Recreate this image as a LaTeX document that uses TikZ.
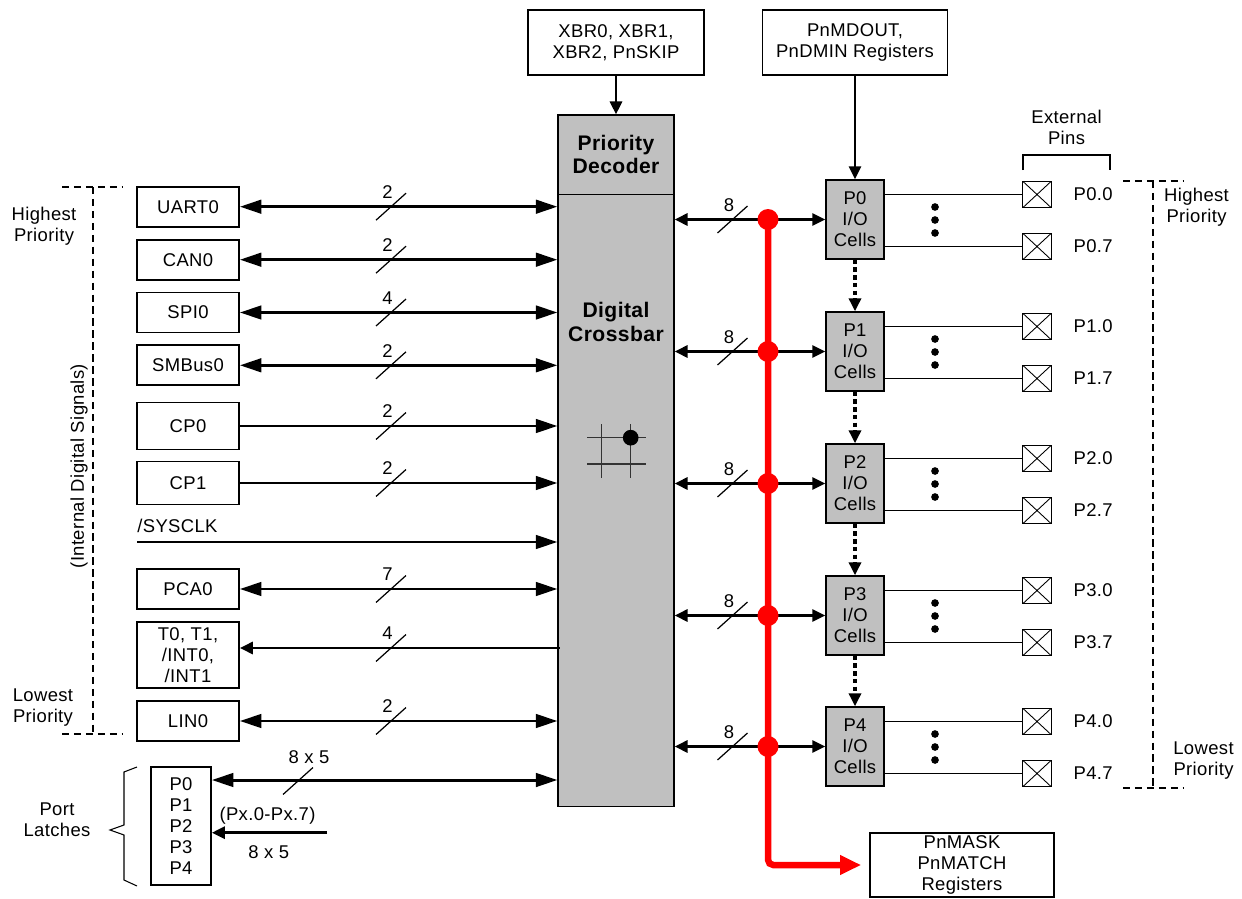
\documentclass[tikz,border=0pt]{standalone}
\usepackage{fontspec}
\setmainfont[LetterSpace=2]{Liberation Sans}
\usepackage{tikz}
\usetikzlibrary{arrows.meta, positioning, calc}
\definecolor{xbGray}{HTML}{C0C0C0}
\definecolor{busRed}{HTML}{FF0000}

\begin{document}
\begin{tikzpicture}[
  x=0.02cm, y=-0.02cm,
  font=\fontsize{10.5}{12}\selectfont,
  bigtip/.tip={Triangle[length=4.3mm, width=2.7mm]},
  smalltip/.tip={Triangle[length=2.6mm, width=2.4mm]},
  redtip/.tip={Triangle[length=4.2mm, width=3.7mm]},
  blk/.style={draw, line width=1pt, fill=white, align=center, inner sep=0pt,
              minimum width=2.04cm, minimum height=0.8cm},
  xb/.style={draw, line width=0.7pt, fill=xbGray, align=center, inner sep=0pt,
             minimum width=2.32cm},
  cell/.style={draw, line width=0.8pt, fill=xbGray, align=center, inner sep=0pt,
               minimum width=1.16cm, minimum height=1.58cm},
  pin/.style={draw, line width=0.6pt, fill=white, inner sep=0pt,
              minimum width=0.57cm, minimum height=0.53cm,
              path picture={\draw[line width=0.5pt]
                (path picture bounding box.north west) -- (path picture bounding box.south east)
                (path picture bounding box.south west) -- (path picture bounding box.north east);}},
  lbl/.style={align=center, inner sep=0pt},
  hdr/.style={align=center, inner sep=0pt, font=\fontsize{12}{13.3}\selectfont\bfseries},
  arr/.style={line width=1.7pt, arrows={bigtip-bigtip}},
  arrin/.style={line width=1.7pt, arrows={-bigtip}},
  arrout/.style={line width=1.7pt, arrows={-smalltip}},
  arrio/.style={line width=1.7pt, arrows={smalltip-smalltip}},
  arrdot/.style={line width=2pt, dash pattern=on 2.6pt off 1.8pt, arrows={-smalltip}},
  wire/.style={line width=0.8pt},
  prio/.style={line width=1.1pt, dash pattern=on 4.2pt off 2.6pt},
  bus/.style={line width=3.7pt, draw=busRed, rounded corners=3pt},
  junc/.style={circle, fill=busRed, inner sep=0pt, minimum size=0.42cm},
  pics/bw/.style={code={
    \draw[line width=0.7pt] (-0.3cm,-0.27cm) -- (0.3cm,0.27cm);
    \node[lbl] (-n) at (-0.07cm,0.29cm) {#1};}},
]
\useasboundingbox (0,0) rectangle (1242,899);

% ---- Configuration registers ----
\node[blk, minimum width=3.52cm, minimum height=1.3cm] (xbr) at (616,42.5) {XBR0, XBR1,\\XBR2, PnSKIP};
\node[blk, minimum width=3.7cm, minimum height=1.3cm] (mdout) at (855,42.5) {PnMDOUT,\\PnDMIN Registers};

% ---- Crossbar ----
\node[xb, hdr, minimum height=1.586cm] (dec) at (616,154.7) {Priority\\Decoder};
\node[xb, minimum height=12.25cm] (xbar) at (616,500.5) {};
\node[hdr] (xbarlbl) at (616,322) {Digital\\Crossbar};
\draw[line width=0.7pt, draw=black!80] (587,437.7) -- (646,437.7) (587,464) -- (646,464)
  (601.7,424) -- (601.7,477.7) (630.7,424) -- (630.7,477.7);
\fill (630.7,437.7) circle (0.157cm);

\draw[arrout] (xbr.south) -- (dec.north);

% ---- Peripherals ----
\node[blk] (uart) at (188,206.7) {UART0};
\node[blk] (can) at (188,259.7) {CAN0};
\node[blk] (spi) at (188,312.5) {SPI0};
\node[blk] (smb) at (188,365.3) {SMBus0};
\node[blk, minimum height=0.94cm] (cp0) at (188,426) {CP0};
\node[blk, minimum height=0.86cm] (cp1) at (188,483) {CP1};
\node[lbl, anchor=west] (sysclk) at (137,526) {/SYSCLK};
\coordinate (clk) at (137,542);
\node[blk] (pca) at (188,589) {PCA0};
\node[blk, minimum height=1.32cm] (tint) at (188,655) {T0, T1,\\/INT0,\\/INT1};
\node[blk] (lin) at (188,721) {LIN0};

\draw[arr] (uart.east) -- (uart.east -| xbar.west);
\draw[arr] (can.east) -- (can.east -| xbar.west);
\draw[arr] (spi.east) -- (spi.east -| xbar.west);
\draw[arr] (smb.east) -- (smb.east -| xbar.west);
\draw[arrin] (cp0.east) -- (cp0.east -| xbar.west);
\draw[arrin] (cp1.east) -- (cp1.east -| xbar.west);
\draw[arrin] (clk) -- (clk -| xbar.west);
\draw[arr] (pca.east) -- (pca.east -| xbar.west);
\coordinate (tinta) at ([yshift=0.14cm]tint.east);
\draw[arrout] ([xshift=0.05cm]tinta -| xbar.west) -- (tinta);
\draw[arr] (lin.east) -- (lin.east -| xbar.west);

\pic (wuart) at (391,206.7) {bw=2};
\pic (wcan) at (391,259.7) {bw=2};
\pic (wspi) at (391,312.5) {bw=4};
\pic (wsmb) at (391,365.3) {bw=2};
\pic (wcp0) at (391,426) {bw=2};
\pic (wcp1) at (391,483) {bw=2};
\pic (wpca) at (391,589) {bw=7};
\pic (wtint) at (391,648) {bw=4};
\pic (wlin) at (391,721) {bw=2};

% ---- Port latches ----
\node[blk, minimum width=1.2cm, minimum height=2.36cm] (latch) at (181,826) {P0\\P1\\P2\\P3\\P4};
\coordinate (lt) at ([yshift=0.92cm]latch.east);
\draw[arr] (lt) -- (lt -| xbar.west);
\pic (wlt) at (298,781) {bw={}};
\node[lbl] (n85a) at (309,757.5) {8 x 5};
\coordinate (lbsrc) at (327,832.7);
\draw[arrout] (lbsrc) -- (lbsrc -| latch.east);
\node[lbl] (pxrange) at (267.5,816) {(Px.0-Px.7)};
\node[lbl] (n85b) at (268.8,852) {8 x 5};
\draw[line width=0.6pt] (137,767) -- (124,772) -- (124,825) -- (110,830) -- (124,835) -- (124,880) -- (137,886);
\node[lbl] (portlbl) at (57,820) {Port\\Latches};

% ---- Priority (left) ----
\draw[prio] (62,187) -- (122,187) (93,187) -- (93,734) (62,734) -- (122,734);
\node[lbl] (hiL) at (44,226) {Highest\\Priority};
\node[lbl] (loL) at (43,707.5) {Lowest\\Priority};
\node[lbl, rotate=90] (intsig) at (79,466) {(Internal Digital Signals)};

% ---- I/O cells ----
\node[cell] (p0) at (855,219.5) {P0\\I/O\\Cells};
\node[cell] (p1) at (855,351.5) {P1\\I/O\\Cells};
\node[cell] (p2) at (855,483.5) {P2\\I/O\\Cells};
\node[cell] (p3) at (855,615.5) {P3\\I/O\\Cells};
\node[cell] (p4) at (855,746.5) {P4\\I/O\\Cells};

\draw[arrout] (mdout.south) -- (p0.north);
\draw[arrdot] (p0.south) -- (p1.north);
\draw[arrdot] (p1.south) -- (p2.north);
\draw[arrdot] (p2.south) -- (p3.north);
\draw[arrdot] (p3.south) -- (p4.north);

\draw[arrio] (p0.west -| xbar.east) -- (p0.west);
\draw[arrio] (p1.west -| xbar.east) -- (p1.west);
\draw[arrio] (p2.west -| xbar.east) -- (p2.west);
\draw[arrio] (p3.west -| xbar.east) -- (p3.west);
\draw[arrio] (p4.west -| xbar.east) -- (p4.west);
\pic (w0) at (732.5,219.5) {bw=8};
\pic (w1) at (732.5,351.5) {bw=8};
\pic (w2) at (732.5,483.5) {bw=8};
\pic (w3) at (732.5,615.5) {bw=8};
\pic (w4) at (732.5,746.5) {bw=8};

% ---- Match bus ----
\node[blk, minimum width=3.68cm, minimum height=1.28cm] (mask) at (962,865) {PnMASK\\PnMATCH\\Registers};
\coordinate (bustop) at (768,219.5);
\draw[bus, arrows={-redtip}, shorten >=0.16cm] (bustop) |- (mask.west);
\node[junc] (j0) at (bustop) {};
\node[junc] (j1) at (bustop |- p1) {};
\node[junc] (j2) at (bustop |- p2) {};
\node[junc] (j3) at (bustop |- p3) {};
\node[junc] (j4) at (bustop |- p4) {};

% ---- External pins ----
\node[lbl] (extlbl) at (1066.5,127.5) {External\\Pins};
\draw[wire] (1023,170) -- (1023,155) -- (1110,155) -- (1110,170);

\node[pin] (q00) at (1037,194.5) {};
\node[pin] (q07) at (1037,246.5) {};
\node[pin] (q10) at (1037,326.5) {};
\node[pin] (q17) at (1037,378.5) {};
\node[pin] (q20) at (1037,458.5) {};
\node[pin] (q27) at (1037,510.5) {};
\node[pin] (q30) at (1037,590.5) {};
\node[pin] (q37) at (1037,642.5) {};
\node[pin] (q40) at (1037,721.5) {};
\node[pin] (q47) at (1037,773.5) {};

\node[lbl, right=0.43cm of q00] (l00) {P0.0};
\node[lbl, right=0.43cm of q07] (l07) {P0.7};
\node[lbl, right=0.43cm of q10] (l10) {P1.0};
\node[lbl, right=0.43cm of q17] (l17) {P1.7};
\node[lbl, right=0.43cm of q20] (l20) {P2.0};
\node[lbl, right=0.43cm of q27] (l27) {P2.7};
\node[lbl, right=0.43cm of q30] (l30) {P3.0};
\node[lbl, right=0.43cm of q37] (l37) {P3.7};
\node[lbl, right=0.43cm of q40] (l40) {P4.0};
\node[lbl, right=0.43cm of q47] (l47) {P4.7};

\draw[wire] (q00 -| p0.east) -- (q00);
\draw[wire] (q07 -| p0.east) -- (q07);
\draw[wire] (q10 -| p1.east) -- (q10);
\draw[wire] (q17 -| p1.east) -- (q17);
\draw[wire] (q20 -| p2.east) -- (q20);
\draw[wire] (q27 -| p2.east) -- (q27);
\draw[wire] (q30 -| p3.east) -- (q30);
\draw[wire] (q37 -| p3.east) -- (q37);
\draw[wire] (q40 -| p4.east) -- (q40);
\draw[wire] (q47 -| p4.east) -- (q47);

% dots between first and last pin
\fill (935,207) circle (0.077cm) (935,220) circle (0.077cm) (935,233) circle (0.077cm);
\fill (935,339) circle (0.077cm) (935,352) circle (0.077cm) (935,365) circle (0.077cm);
\fill (935,471) circle (0.077cm) (935,484) circle (0.077cm) (935,497) circle (0.077cm);
\fill (935,603) circle (0.077cm) (935,616) circle (0.077cm) (935,629) circle (0.077cm);
\fill (935,734) circle (0.077cm) (935,747) circle (0.077cm) (935,760) circle (0.077cm);

% ---- Priority (right) ----
\draw[prio] (1123,181) -- (1183,181) (1153,181) -- (1153,788) (1123,788) -- (1183,788);
\node[lbl] (hiR) at (1196.5,207) {Highest\\Priority};
\node[lbl] (loR) at (1203.5,761) {Lowest\\Priority};
\end{tikzpicture}
\end{document}
